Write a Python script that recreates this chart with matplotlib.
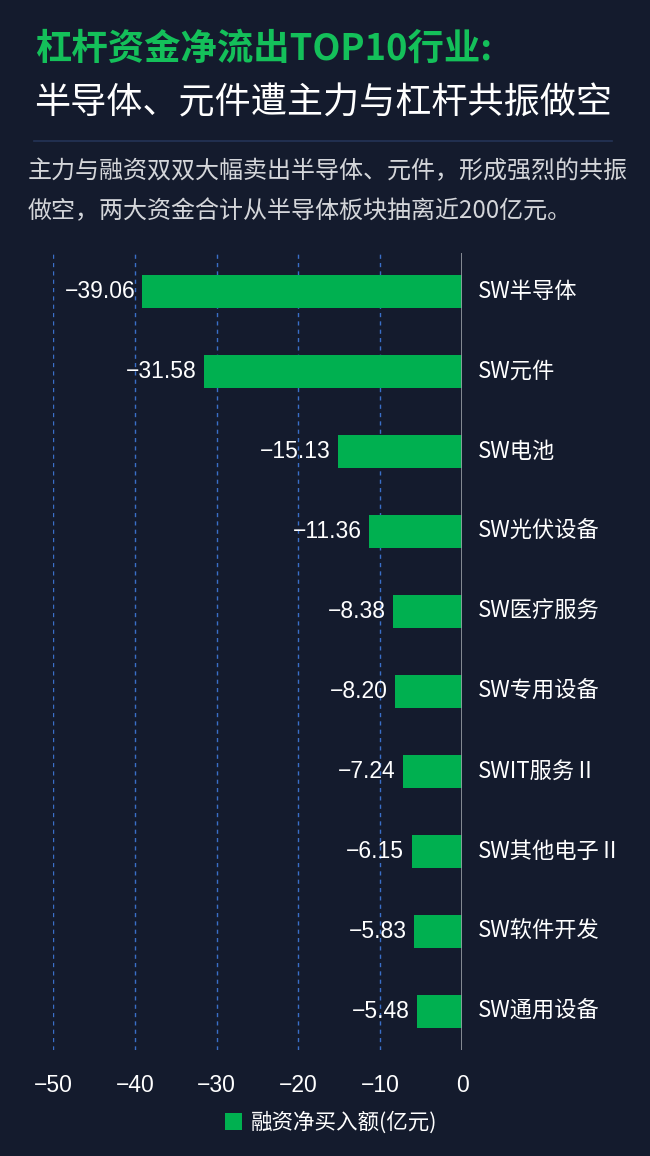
import numpy as np
import matplotlib
matplotlib.use("Agg")
import matplotlib.pyplot as plt
from matplotlib.patches import Patch

plt.rcParams['font.family'] = ['Noto Sans CJK SC', 'DejaVu Sans']
plt.rcParams['axes.unicode_minus'] = True

# data
industries = ["SW半导体", "SW元件", "SW电池", "SW光伏设备", "SW医疗服务",
              "SW专用设备", "SWIT服务Ⅱ", "SW其他电子Ⅱ", "SW软件开发", "SW通用设备"]
net_buy = [-39.06, -31.58, -15.13, -11.36, -8.38, -8.20, -7.24, -6.15, -5.83, -5.48]
x_ticks = [-50, -40, -30, -20, -10, 0]

title1 = "杠杆资金净流出TOP10行业:"
title2 = "半导体、元件遭主力与杠杆共振做空"
subtitle = ["主力与融资双双大幅卖出半导体、元件，形成强烈的共振",
            "做空，两大资金合计从半导体板块抽离近200亿元。"]
legend_label = "融资净买入额(亿元)"

BG = "#141b2d"
GREEN = "#00b050"
NUM_FONT = ["Liberation Sans", "DejaVu Sans"]
W, H = 650, 1156

fig = plt.figure(figsize=(W / 100, H / 100), dpi=100, facecolor=BG)

# headline block
fig.text(35 / W, 1 - 49 / H, title1, color="#14c05a", fontsize=26.2, fontweight="heavy",
         va="center", ha="left")
fig.text(34 / W, 1 - 103 / H, title2, color="white", fontsize=26, fontweight="medium",
         va="center", ha="left")
fig.add_artist(plt.Line2D([34 / W, 612 / W], [1 - 141 / H, 1 - 141 / H],
                          color="#243457", lw=1.2))
for i, line in enumerate(subtitle):
    fig.text(28 / W, 1 - (171 + 40 * i) / H, line, color="#d4d6da", fontsize=17.3,
             va="center", ha="left")

# chart area
ax = fig.add_axes([53 / W, 1 - 1050 / H, 409 / W, 797 / H])
ax.set_facecolor(BG)
y = np.arange(len(industries))
ax.barh(y, net_buy, height=0.41, color=GREEN, zorder=3)
ax.set_xlim(-50, 0)
ax.set_ylim(9.48, -0.48)

for xv in x_ticks[:-1]:
    ax.axvline(xv, color="#3a6fc8", lw=1, ls=(0, (3, 3)), zorder=1)
ax.axvline(0, color="#9a9ea6", lw=1.2, zorder=4)

for yi, v, name in zip(y, net_buy, industries):
    ax.text(v - 0.9, yi, f"{v:.2f}".replace("-", "\u2212"), color="white",
            fontsize=16.5, ha="right", va="center", family=NUM_FONT)
    ax.text(2.0, yi, name, color="white", fontsize=16, ha="left", va="center",
            clip_on=False)

ax.set_xticks(x_ticks)
ax.set_xticklabels([str(t).replace("-", "\u2212") for t in x_ticks], family=NUM_FONT)
ax.tick_params(axis="x", length=0, pad=17, labelsize=16.5, labelcolor="white")
ax.set_yticks([])
for s in ax.spines.values():
    s.set_visible(False)

handle = Patch(facecolor=GREEN, edgecolor="none")
fig.legend([handle], [legend_label], loc="center", bbox_to_anchor=(331 / W, 1 - 1123 / H),
           frameon=False, fontsize=15.5, labelcolor="white", handlelength=0.8,
           handleheight=0.8, handletextpad=0.4)

fig.savefig("out.png", dpi=100, facecolor=BG)
